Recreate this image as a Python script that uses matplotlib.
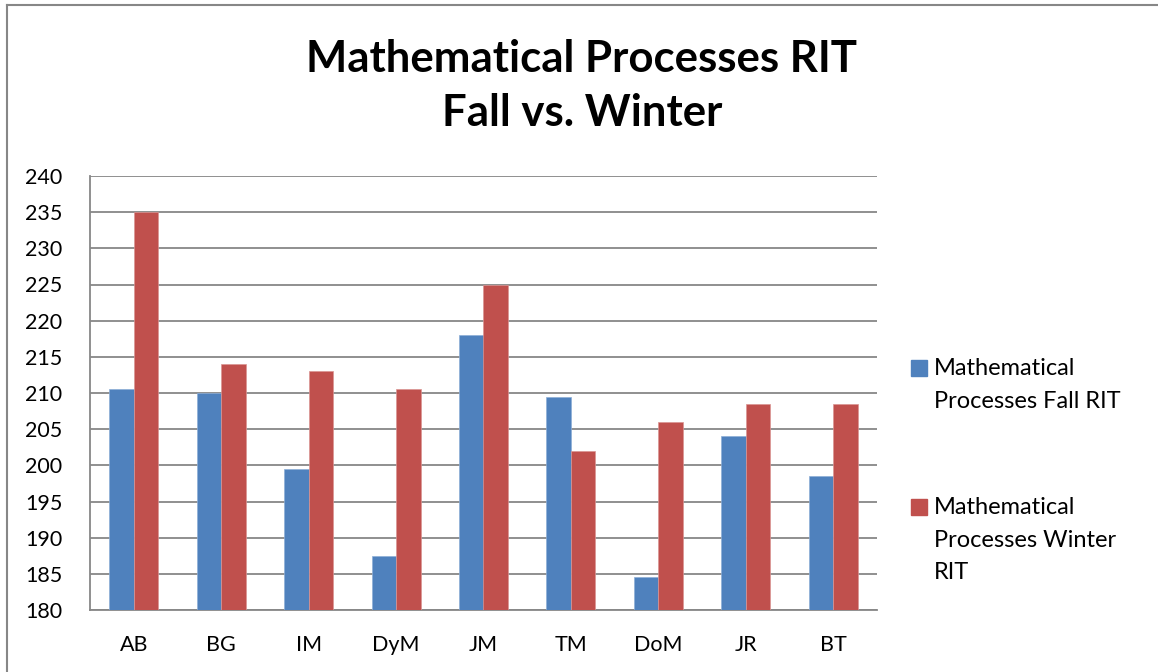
import matplotlib
matplotlib.use("Agg")
import matplotlib.pyplot as plt
from matplotlib.patches import Rectangle
from matplotlib.lines import Line2D
import numpy as np

categories = ["AB", "BG", "IM", "DyM", "JM", "TM", "DoM", "JR", "BT"]
fall = [210.5, 210, 199.5, 187.5, 218, 209.5, 184.5, 204, 198.5]
winter = [235, 214, 213, 210.5, 225, 202, 206, 208.5, 208.5]
series_names = ["Mathematical\nProcesses Fall RIT", "Mathematical\nProcesses Winter\nRIT"]
colors = ["#4F81BD", "#C0504D"]
title = "Mathematical Processes RIT\nFall vs. Winter"
yticks = list(range(180, 241, 5))

plt.rcParams['font.family'] = ['Lato', 'DejaVu Sans']

W, H = 1158, 672
fig = plt.figure(figsize=(W / 100, H / 100), dpi=100)
ax = fig.add_axes([90 / W, 1 - 610 / H, (877 - 90) / W, (610 - 176) / H])

x = np.arange(len(categories))
bw = 0.28
ax.bar(x - bw / 2, np.array(fall) - 180, bw, bottom=180, color=colors[0],
       edgecolor="#8DAED6", linewidth=0.5, zorder=3)
ax.bar(x + bw / 2, np.array(winter) - 180, bw, bottom=180, color=colors[1],
       edgecolor="#DA9593", linewidth=0.5, zorder=3)

ax.set_xlim(-0.5, len(categories) - 0.5)
ax.set_ylim(180, 240)
ax.set_yticks(yticks)
ax.set_xticks(x)
ax.set_xticklabels(categories)
ax.tick_params(axis='both', length=0, labelsize=15.5, colors="black")
ax.tick_params(axis='x', pad=18)
ax.tick_params(axis='y', pad=20)
ax.yaxis.grid(True, color="#878787", linewidth=1.3, zorder=0)
ax.set_axisbelow(True)
for s in ["top", "right"]:
    ax.spines[s].set_visible(False)
for s in ["left", "bottom"]:
    ax.spines[s].set_color("#878787")
    ax.spines[s].set_linewidth(1.3)

fig.text(582 / W, 1 - 86 / H, title, ha="center", va="center",
         fontsize=31.5, fontweight="bold", linespacing=1.42)

# legend
leg_y = [368, 507]
for i, (name, c) in enumerate(zip(series_names, colors)):
    fig.patches.append(Rectangle((911 / W, 1 - (leg_y[i] + 8) / H), 16 / W, 16 / H,
                                 transform=fig.transFigure, color=c))
    fig.text(934 / W, 1 - (leg_y[i] - 10) / H, name, ha="left", va="top",
             fontsize=17, linespacing=1.68)

# outer frame
fig.add_artist(Line2D([7 / W, 7 / W], [0, 1 - 5 / H], transform=fig.transFigure,
                      color="#878787", linewidth=1.5))
fig.add_artist(Line2D([7 / W, 1], [1 - 5 / H, 1 - 5 / H], transform=fig.transFigure,
                      color="#878787", linewidth=1.5))

fig.savefig("out.png", dpi=100)
